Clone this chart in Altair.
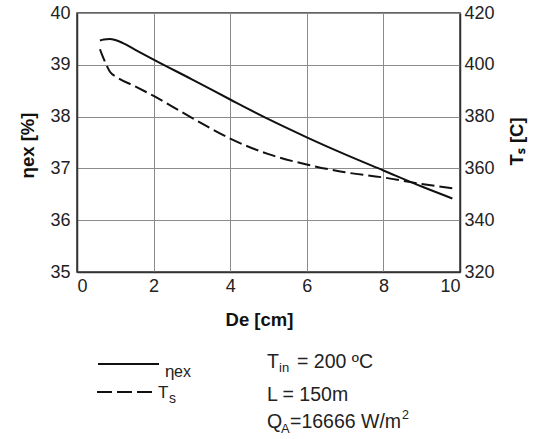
import altair as alt
import pandas as pd

# eta_ex curve (left axis, %)
de_eta = [0.6, 0.7, 0.85, 1.0, 1.2, 1.5, 2.0, 3.0, 4.0, 5.0, 6.0, 7.0, 8.0, 9.0, 9.8]
eta = [39.47, 39.49, 39.5, 39.48, 39.42, 39.3, 39.1, 38.72, 38.33, 37.95, 37.6, 37.27, 36.96, 36.65, 36.42]

# T_s curve (right axis, C)
de_ts = [0.6, 0.65, 0.73, 0.86, 1.04, 1.5, 2.0, 3.0, 4.0, 5.0, 6.0, 7.0, 8.0, 9.0, 9.8]
ts = [406.0, 404.0, 401.2, 397.3, 395.2, 391.8, 388.0, 379.5, 371.5, 365.5, 361.5, 358.5, 356.5, 354.0, 352.3]

x_ticks = [0, 2, 4, 6, 8, 10]
eta_ticks = [35, 36, 37, 38, 39, 40]
ts_ticks = [320, 340, 360, 380, 400, 420]

FONT = "Liberation Sans"

df_eta = pd.DataFrame({"De": de_eta, "v": eta})
df_ts = pd.DataFrame({"De": de_ts, "v": ts})

xenc = alt.X(
    "De:Q",
    scale=alt.Scale(domain=[0, 10], nice=False),
    axis=alt.Axis(values=x_ticks, title="De [cm]", grid=True, labelPadding=5,
                  titleX=182, titleY=53, titleAlign="center", titleBaseline="alphabetic"),
)

line_eta = alt.Chart(df_eta).mark_line(color="#111", strokeWidth=2, interpolate="monotone").encode(
    x=xenc,
    y=alt.Y(
        "v:Q",
        scale=alt.Scale(domain=[35, 40], nice=False, zero=False),
        axis=alt.Axis(orient="left", values=eta_ticks, title="ηex [%]", grid=True, labelPadding=7,
                      titleX=-50, titleY=132, titleAngle=270, titleAlign="center", titleBaseline="middle"),
    ),
)

line_ts = alt.Chart(df_ts).mark_line(color="#111", strokeWidth=2, strokeDash=[13, 5], interpolate="monotone").encode(
    x=xenc,
    y=alt.Y(
        "v:Q",
        scale=alt.Scale(domain=[320, 420], nice=False, zero=False),
        axis=alt.Axis(orient="right", values=ts_ticks, title="Tₛ [C]", grid=False, labelPadding=4,
                      titleX=56, titleY=128, titleAngle=270, titleAlign="center", titleBaseline="middle"),
    ),
)

one = pd.DataFrame({"k": [0]})


def txt(s, x, y, size=19.5, weight="normal"):
    return alt.Chart(one).mark_text(
        align="left", baseline="alphabetic", font=FONT, fontSize=size, fontWeight=weight, color="#222"
    ).encode(x=alt.value(x), y=alt.value(y), text=alt.value(s))


leg_solid = alt.Chart(one).mark_rule(color="#111", strokeWidth=2).encode(
    x=alt.value(21), x2=alt.value(82), y=alt.value(351)
)
leg_dash = alt.Chart(one).mark_rule(color="#111", strokeWidth=2, strokeDash=[15, 5]).encode(
    x=alt.value(20), x2=alt.value(78), y=alt.value(379)
)

annots = [
    txt("η", 88, 364, 17),
    txt("ex", 97, 364, 16),
    txt("T", 81, 385, 17),
    txt("s", 92, 390, 14),
    txt("T", 190, 355),
    txt("in", 202, 359, 13),
    txt("= 200 ºC", 220, 355),
    txt("L = 150m", 190, 388),
    txt("Q", 190, 415),
    txt("A", 204, 420, 13),
    txt("=16666 W/m", 213, 415),
    txt("2", 325, 406, 12.5),
]

chart = alt.layer(line_eta, line_ts, leg_solid, leg_dash, *annots).resolve_scale(y="independent").properties(
    width=383,
    height=259,
    autosize=alt.AutoSizeParams(type="none"),
    padding={"left": 77, "top": 13, "right": 79, "bottom": 167},
).configure_axis(
    labelFont=FONT,
    labelFontSize=18,
    labelColor="#222",
    titleFont=FONT,
    titleFontSize=18.5,
    titleFontWeight="bold",
    titleColor="#111",
    domainColor="#333",
    domainWidth=1.5,
    gridColor="#8c8c8c",
    gridWidth=1,
    ticks=False,
).configure_view(stroke="#333", strokeWidth=1.5)

chart.save("out.html", embed_options={"renderer": "svg", "actions": False})
